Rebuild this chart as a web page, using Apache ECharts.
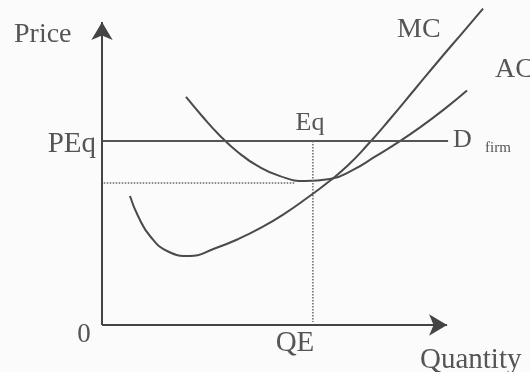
<!DOCTYPE html>
<html>
<head>
<meta charset="utf-8">
<script src="https://cdn.jsdelivr.net/npm/echarts@6/dist/echarts.min.js"></script>
<style>
  html, body { margin: 0; padding: 0; background: #fbfbfb; }
  #chart { width: 530px; height: 372px; }
</style>
</head>
<body>
<div id="chart"></div>
<script>
// 数据（读图估计，任意单位）
var mcX = [8.14, 10.47, 13.95, 19.19, 25.58, 32.56, 39.53, 46.51, 53.20, 59.59, 65.70, 71.51, 77.33, 83.72, 90.99, 98.26, 104.65, 110.76];
var mcY = [42.57, 35.97, 29.37, 24.26, 22.77, 25.15, 28.32, 32.28, 36.83, 41.91, 47.10, 52.71, 59.64, 67.99, 77.89, 87.79, 96.27, 104.39];
var acX = [24.42, 29.07, 34.01, 39.53, 45.35, 51.74, 59.01, 66.28, 72.97, 79.36, 86.05, 92.44, 99.42, 106.10];
var acY = [75.25, 68.98, 62.81, 57.03, 52.41, 49.14, 47.49, 48.15, 51.19, 55.54, 60.26, 65.21, 71.16, 77.39];
var pEq = 60.7;        // 价格水平
var qE = 61.3;         // 均衡产量
var acMin = 46.9;      // 点线高度
var dEndX = 100.6;
var dotEndX = 56;
var axisEndX = 100.3;  // 箭头位置
var axisEndY = 100;

function pairs(xs, ys) {
    return xs.map(function (x, i) { return [x, ys[i]]; });
}

var chart = echarts.init(document.getElementById('chart'));

var serif = '"Liberation Serif", "DejaVu Serif", serif';
var ink = '#4a4a4a';
var txt = '#555';

var option = {
    backgroundColor: '#fbfbfb',
    animation: false,
    // 坐标范围比画出的轴更大，让曲线可以伸出轴端
    grid: { left: 102, right: 1.4, top: 6.85, bottom: 47 },
    xAxis: {
        type: 'value', min: 0, max: 124,
        axisLine: { show: false }, axisTick: { show: false }, axisLabel: { show: false }, splitLine: { show: false }
    },
    yAxis: {
        type: 'value', min: 0, max: 105,
        axisLine: { show: false }, axisTick: { show: false }, axisLabel: { show: false }, splitLine: { show: false }
    },
    series: [
        {
            name: 'axes', type: 'line', data: [], silent: true,
            markLine: {
                silent: true,
                symbol: ['none', 'arrow'],
                symbolSize: [16, 18],
                label: { show: false },
                lineStyle: { color: '#444', width: 2, type: 'solid' },
                data: [
                    [{ coord: [0, 0] }, { coord: [axisEndX, 0] }],
                    [{ coord: [0, 0] }, { coord: [0, axisEndY] }]
                ]
            }
        },
        {
            name: 'MC', type: 'line', smooth: 0.5, showSymbol: false,
            lineStyle: { color: ink, width: 2 },
            data: pairs(mcX, mcY)
        },
        {
            name: 'AC', type: 'line', smooth: 0.5, showSymbol: false,
            lineStyle: { color: ink, width: 2 },
            data: pairs(acX, acY)
        },
        {
            name: 'D', type: 'line', showSymbol: false,
            lineStyle: { color: '#555', width: 2 },
            data: [[0, pEq], [dEndX, pEq]]
        },
        {
            name: 'dotH', type: 'line', showSymbol: false,
            lineStyle: { color: '#666', width: 1.5, type: 'dotted' },
            data: [[0.5, acMin], [dotEndX, acMin]]
        },
        {
            name: 'dotV', type: 'line', showSymbol: false,
            lineStyle: { color: '#666', width: 1.5, type: 'dotted' },
            data: [[qE, pEq], [qE, 1]]
        }
    ],
    graphic: [
        { type: 'text', style: { text: 'Price', x: 14, y: 35, font: '28px ' + serif, fill: txt, verticalAlign: 'middle' } },
        { type: 'text', style: { text: 'PEq', x: 96, y: 144, font: '29px ' + serif, fill: txt, align: 'right', verticalAlign: 'middle' } },
        { type: 'text', style: { text: 'Eq', x: 310, y: 123, font: '26px ' + serif, fill: txt, align: 'center', verticalAlign: 'middle' } },
        { type: 'text', style: { text: 'MC', x: 397, y: 30, font: '28px ' + serif, fill: txt, verticalAlign: 'middle' } },
        { type: 'text', style: { text: 'AC', x: 495, y: 70, font: '28px ' + serif, fill: txt, verticalAlign: 'middle' } },
        { type: 'text', style: { text: 'D', x: 453, y: 140, font: '26px ' + serif, fill: txt, verticalAlign: 'middle' } },
        { type: 'text', style: { text: 'firm', x: 485, y: 148, font: '15px ' + serif, fill: txt, verticalAlign: 'middle' } },
        { type: 'text', style: { text: '0', x: 84, y: 335, font: '27px ' + serif, fill: txt, align: 'center', verticalAlign: 'middle' } },
        { type: 'text', style: { text: 'QE', x: 295, y: 343, font: '29px ' + serif, fill: txt, align: 'center', verticalAlign: 'middle' } },
        { type: 'text', style: { text: 'Quantity', x: 420, y: 360, font: '29px ' + serif, fill: txt, verticalAlign: 'middle' } }
    ]
};

chart.setOption(option);
</script>
</body>
</html>
